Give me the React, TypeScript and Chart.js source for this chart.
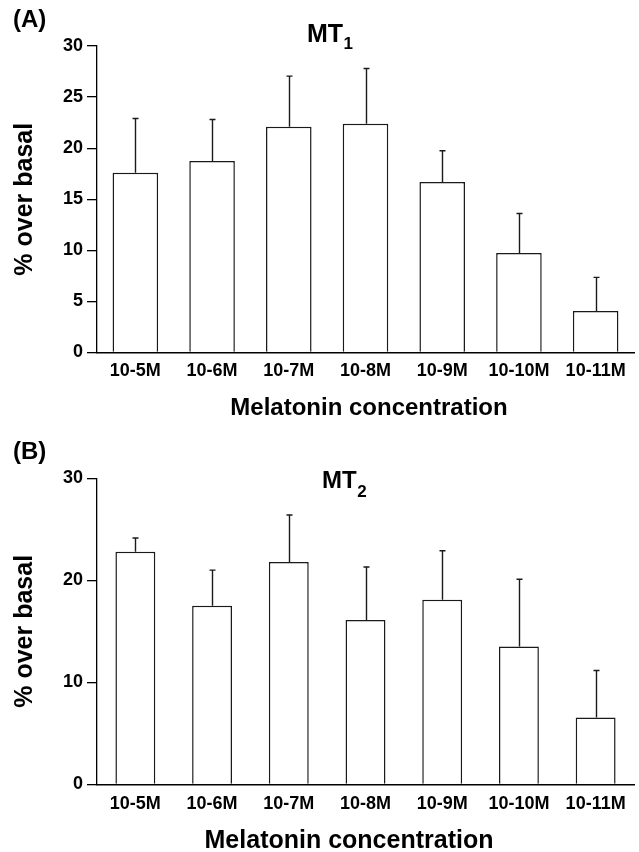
import React, { useEffect, useRef } from "react";
import { Chart, registerables } from "chart.js";

Chart.register(...registerables);

// ---------- data ----------
const categories = ["10-5M", "10-6M", "10-7M", "10-8M", "10-9M", "10-10M", "10-11M"];
const mt1Means = [17.6, 18.75, 22.1, 22.4, 16.7, 9.75, 4.05];
const mt1Errors = [5.3, 4.05, 4.95, 5.4, 3.05, 3.85, 3.3];
const mt2Means = [22.8, 17.5, 21.8, 16.1, 18.1, 13.5, 6.55];
const mt2Errors = [1.35, 3.5, 4.6, 5.2, 4.8, 6.6, 4.6];
const yMax = 30;
const mt1Step = 5;
const mt2Step = 10;
const panelLetters = ["(A)", "(B)"];
const titleMain = "MT";
const titleSubs = ["1", "2"];
const xAxisTitle = "Melatonin concentration";
const yAxisTitle = "% over basal";

const FONT = "'Liberation Sans', Arial, Helvetica, sans-serif";
const W = 639;
const H = 426;

type PanelProps = {
  means: number[];
  errors: number[];
  step: number;
  letter: string;
  sub: string;
  barPct: number;
  padTop: number;
  xAxisHeight: number;
  tickPad: number;
  letterBaseline: number;
  titleX: number;
  titleBaseline: number;
  titleSize: number;
  subBaseline: number;
  xTitleX: number;
  xTitleBaseline: number;
  xTitleSize: number;
};

function Panel(p: PanelProps) {
  const ref = useRef<HTMLCanvasElement | null>(null);
  useEffect(() => {
    if (!ref.current) return;
    const errorBars = {
      id: "errorBars",
      afterDatasetsDraw(chart: any) {
        const ctx = chart.ctx;
        const meta = chart.getDatasetMeta(0);
        const ys = chart.scales.y;
        ctx.save();
        ctx.strokeStyle = "#1a1a1a";
        ctx.lineWidth = 1.4;
        meta.data.forEach((bar: any, i: number) => {
          const x = Math.round(bar.x) + 0.5;
          const yTop = bar.y;
          const yErr = ys.getPixelForValue(p.means[i] + p.errors[i]);
          ctx.beginPath();
          ctx.moveTo(x, yTop);
          ctx.lineTo(x, yErr);
          ctx.moveTo(x - 3, yErr);
          ctx.lineTo(x + 3, yErr);
          ctx.stroke();
        });
        ctx.restore();
      },
    };
    const texts = {
      id: "panelTexts",
      afterDraw(chart: any) {
        const ctx = chart.ctx;
        ctx.save();
        ctx.fillStyle = "#000";
        ctx.textBaseline = "alphabetic";
        ctx.textAlign = "left";
        ctx.font = `bold 24px ${FONT}`;
        ctx.fillText(p.letter, 13, p.letterBaseline);
        ctx.font = `bold ${p.titleSize}px ${FONT}`;
        ctx.fillText(titleMain, p.titleX, p.titleBaseline);
        const w = ctx.measureText(titleMain).width;
        ctx.font = `bold 17px ${FONT}`;
        ctx.fillText(p.sub, p.titleX + w + 0.5, p.subBaseline);
        ctx.textAlign = "center";
        ctx.font = `bold ${p.xTitleSize}px ${FONT}`;
        ctx.fillText(xAxisTitle, p.xTitleX, p.xTitleBaseline);
        ctx.restore();
      },
    };
    const chart = new Chart(ref.current, {
      type: "bar",
      data: {
        labels: categories,
        datasets: [
          {
            data: p.means,
            backgroundColor: "#ffffff",
            borderColor: "#1a1a1a",
            borderWidth: 1.5,
            barPercentage: p.barPct,
            categoryPercentage: 1,
          },
        ],
      },
      options: {
        animation: false,
        responsive: false,
        devicePixelRatio: 1,
        layout: { padding: { top: p.padTop, right: 5, left: 0, bottom: 0 } },
        plugins: { legend: { display: false }, tooltip: { enabled: false }, title: { display: false } },
        scales: {
          x: {
            grid: { display: false, drawTicks: false },
            border: { display: true, color: "#000", width: 1.6 },
            ticks: {
              color: "#000",
              padding: p.tickPad,
              maxRotation: 0,
              autoSkip: false,
              font: { family: FONT, size: 18, weight: "bold" },
            },
            afterFit(scale: any) {
              scale.height = p.xAxisHeight;
            },
          },
          y: {
            min: 0,
            max: yMax,
            ticks: {
              stepSize: p.step,
              color: "#000",
              padding: 4,
              font: { family: FONT, size: 18, weight: "bold" },
            },
            grid: { drawOnChartArea: false, drawTicks: true, tickLength: 10, color: "#000", lineWidth: 1.3 },
            border: { display: true, color: "#000", width: 1.3 },
            title: {
              display: true,
              text: yAxisTitle,
              color: "#000",
              font: { family: FONT, size: 25, weight: "bold" },
              padding: { top: 10, bottom: 0 },
            },
            afterFit(scale: any) {
              scale.width = 97;
            },
          },
        },
      },
      plugins: [errorBars, texts],
    } as any);
    return () => chart.destroy();
  }, []);
  return <canvas ref={ref} width={W} height={H} style={{ display: "block", width: W, height: H }} />;
}

export default function App() {
  return (
    <div style={{ position: "absolute", left: 0, top: 0, width: W, height: 852, background: "#fff" }}>
      <Panel
        means={mt1Means}
        errors={mt1Errors}
        step={mt1Step}
        letter={panelLetters[0]}
        sub={titleSubs[0]}
        barPct={0.594}
        padTop={46}
        xAxisHeight={H - 352.5}
        tickPad={8}
        letterBaseline={27}
        titleX={307}
        titleBaseline={42}
        titleSize={25}
        subBaseline={49}
        xTitleX={369}
        xTitleBaseline={415}
        xTitleSize={24}
      />
      <Panel
        means={mt2Means}
        errors={mt2Errors}
        step={mt2Step}
        letter={panelLetters[1]}
        sub={titleSubs[1]}
        barPct={0.52}
        padTop={52.3}
        xAxisHeight={H - 358.3}
        tickPad={9}
        letterBaseline={33}
        titleX={322}
        titleBaseline={62.3}
        titleSize={24}
        subBaseline={71}
        xTitleX={349}
        xTitleBaseline={422}
        xTitleSize={25}
      />
    </div>
  );
}
